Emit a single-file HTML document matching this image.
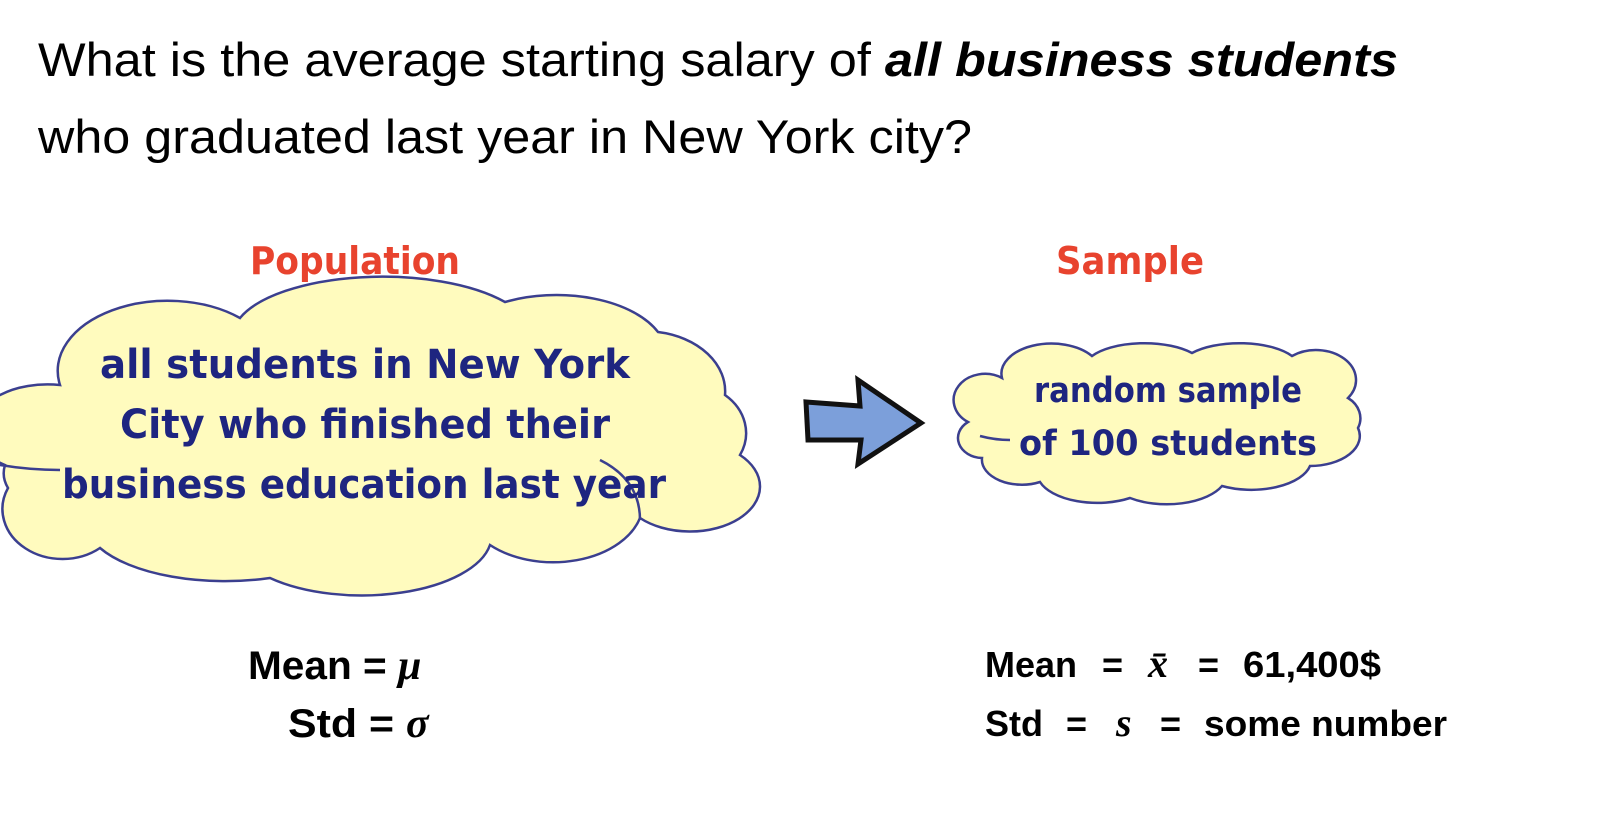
<!DOCTYPE html>
<html><head><meta charset="utf-8"><style>
html,body{margin:0;padding:0;background:#fff;}
svg{display:block;}
.t{font-family:"Liberation Sans",sans-serif;fill:#000;}
.c{font-family:"DejaVu Sans",sans-serif;font-weight:bold;fill:#1e2580;}
.m{font-family:"Liberation Sans",sans-serif;font-weight:bold;fill:#000;}
.g{font-family:"Liberation Serif",serif;font-style:italic;font-weight:bold;}
</style></head><body>
<svg width="1600" height="832" viewBox="0 0 1600 832">
<text class="t" x="38" y="76" font-size="47" textLength="1360" lengthAdjust="spacingAndGlyphs">What is the average starting salary of <tspan font-weight="bold" font-style="italic">all business students</tspan></text>
<text class="t" x="38" y="153" font-size="47" textLength="934" lengthAdjust="spacingAndGlyphs">who graduated last year in New York city?</text>

<text x="355" y="274" text-anchor="middle" font-family="DejaVu Sans,sans-serif" font-weight="bold" font-size="38" fill="#e8432e" textLength="210" lengthAdjust="spacingAndGlyphs">Population</text>
<text x="1130" y="274" text-anchor="middle" font-family="DejaVu Sans,sans-serif" font-weight="bold" font-size="38" fill="#e8432e" textLength="148" lengthAdjust="spacingAndGlyphs">Sample</text>

<path fill="#fffbbe" stroke="#3b3f8f" stroke-width="2.5"
d="M60,385 A110,70 0 0 1 240,318 A150,60 0 0 1 505,302 A110,60 0 0 1 658,332 A80,60 0 0 1 725,395 A60,50 0 0 1 740,455 A70,45 0 0 1 640,518 A90,60 0 0 1 490,545 A130,60 0 0 1 270,578 A140,60 0 0 1 100,548 A60,50 0 0 1 8,488 A60,40 0 0 1 5,465 A50,40 0 0 1 0,395 A70,40 0 0 1 60,385 Z"/>
<path d="M0,465 Q30,470 60,470" fill="none" stroke="#3b3f8f" stroke-width="2.5"/>
<path d="M600,460 Q640,480 640,520" fill="none" stroke="#3b3f8f" stroke-width="2.5"/>
<text class="c" x="365" y="378" font-size="40" text-anchor="middle" textLength="530" lengthAdjust="spacingAndGlyphs">all students in New York</text>
<text class="c" x="365" y="438" font-size="40" text-anchor="middle" textLength="490" lengthAdjust="spacingAndGlyphs">City who finished their</text>
<text class="c" x="364" y="498" font-size="40" text-anchor="middle" textLength="604" lengthAdjust="spacingAndGlyphs">business education last year</text>

<polygon points="806,402 860,406 858,380 921,423 858,464 861,440 808,440" fill="#7c9fda" stroke="#111" stroke-width="5" stroke-linejoin="miter"/>

<path fill="#fffbbe" stroke="#3b3f8f" stroke-width="2.5"
d="M1002,378 A50,30 0 0 1 1092,356 A60,25 0 0 1 1192,353 A60,25 0 0 1 1292,356 A40,30 0 0 1 1348,398 A30,25 0 0 1 1358,428 A50,30 0 0 1 1310,466 A60,30 0 0 1 1222,486 A60,30 0 0 1 1130,498 A60,30 0 0 1 1040,482 A40,25 0 0 1 982,458 A25,20 0 0 1 968,422 A30,25 0 0 1 1002,378 Z"/>
<path d="M980,436 Q995,440 1010,440" fill="none" stroke="#3b3f8f" stroke-width="2.5"/>
<text class="c" x="1168" y="402" font-size="35" text-anchor="middle" textLength="268" lengthAdjust="spacingAndGlyphs">random sample</text>
<text class="c" x="1168" y="455" font-size="35" text-anchor="middle" textLength="298" lengthAdjust="spacingAndGlyphs">of 100 students</text>

<text class="m" x="248" y="679" font-size="40"><tspan textLength="150" lengthAdjust="spacingAndGlyphs">Mean = </tspan><tspan class="g" font-size="42">μ</tspan></text>
<text class="m" x="288" y="737" font-size="40"><tspan textLength="118" lengthAdjust="spacingAndGlyphs">Std = </tspan><tspan class="g" font-size="42">σ</tspan></text>

<text class="m" x="985" y="677" font-size="36">Mean<tspan x="1102">=</tspan><tspan class="g" x="1148" font-size="40">x̄</tspan><tspan x="1198">=</tspan><tspan x="1243" textLength="138" lengthAdjust="spacingAndGlyphs">61,400$</tspan></text>
<text class="m" x="985" y="736" font-size="36">Std<tspan x="1066">=</tspan><tspan class="g" x="1116" font-size="40" font-weight="normal">s</tspan><tspan x="1160">=</tspan><tspan x="1204" textLength="243" lengthAdjust="spacingAndGlyphs">some number</tspan></text>
</svg>
</body></html>
